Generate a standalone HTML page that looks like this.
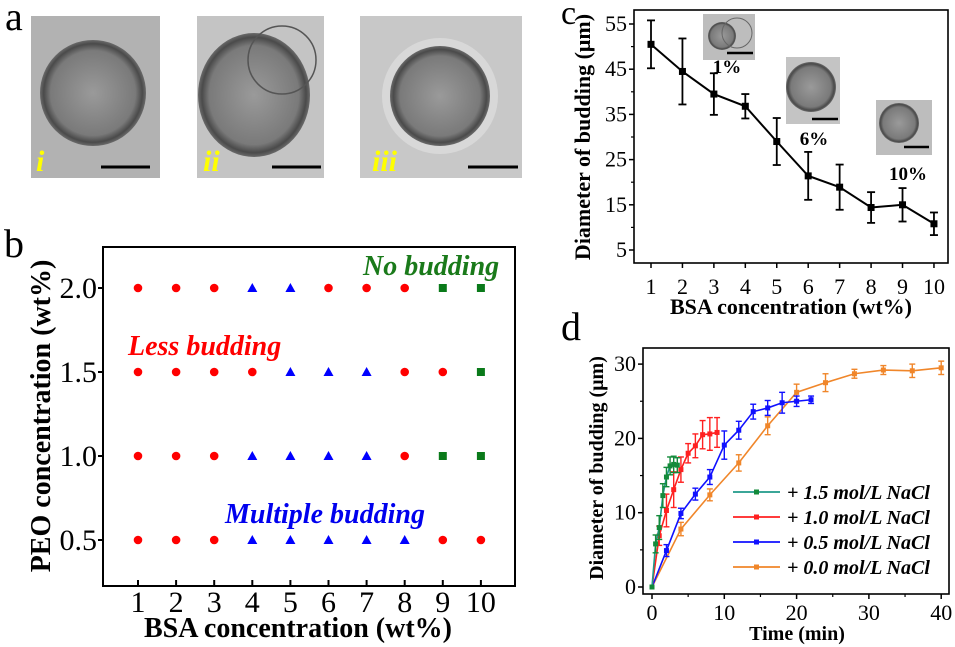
<!DOCTYPE html>
<html><head><meta charset="utf-8"><style>
html,body{margin:0;padding:0;background:#fff;}
svg{display:block;font-family:"Liberation Serif",serif;}
</style></head><body>
<svg id="s" width="955" height="647" viewBox="0 0 955 647" xmlns="http://www.w3.org/2000/svg">
<defs>
<radialGradient id="cell" cx="50%" cy="50%" r="50%">
<stop offset="0" stop-color="#9a9a9a"/><stop offset="0.8" stop-color="#7a7a7a"/><stop offset="0.93" stop-color="#4a4a4a"/><stop offset="1" stop-color="#6a6a6a"/>
</radialGradient>
</defs>
<!-- panel a -->
<text x="5" y="30" font-size="40">a</text>
<rect x="31" y="16" width="129" height="162" fill="#b2b2b2"/>
<circle cx="93" cy="93" r="53" fill="url(#cell)"/>
<line x1="101" y1="167" x2="150" y2="167" stroke="#000" stroke-width="3"/>
<text x="36" y="171" font-size="30" font-weight="bold" font-style="italic" fill="#ffff00">i</text>
<rect x="197" y="16" width="127" height="162" fill="#c4c4c4"/>
<ellipse cx="254" cy="95" rx="56" ry="62" fill="url(#cell)"/>
<circle cx="282" cy="60" r="34" fill="none" stroke="#555" stroke-width="1.5"/>
<line x1="272" y1="167" x2="321" y2="167" stroke="#000" stroke-width="3"/>
<text x="203" y="171" font-size="30" font-weight="bold" font-style="italic" fill="#ffff00">ii</text>
<rect x="360" y="16" width="162" height="162" fill="#c8c8c8"/>
<circle cx="440" cy="96" r="58" fill="#d8d8d8"/>
<circle cx="440" cy="96" r="50" fill="url(#cell)"/>
<line x1="468" y1="167" x2="518" y2="167" stroke="#000" stroke-width="3"/>
<text x="372" y="171" font-size="30" font-weight="bold" font-style="italic" fill="#ffff00">iii</text>

<!-- panel b -->
<text x="4" y="257" font-size="40">b</text>
<rect x="103" y="247" width="412" height="339" fill="none" stroke="#000" stroke-width="2"/>
<g id="bdata"></g>
<text x="363" y="275" font-size="28" font-weight="bold" font-style="italic" fill="#1a7a1a">No budding</text>
<text x="128" y="355" font-size="28" font-weight="bold" font-style="italic" fill="#ff0000">Less budding</text>
<text x="225" y="523" font-size="28" font-weight="bold" font-style="italic" fill="#0000ee">Multiple budding</text>
<text x="298" y="637" font-size="28" font-weight="bold" text-anchor="middle">BSA concentration (wt%)</text>
<text transform="translate(50,416) rotate(-90)" font-size="28" font-weight="bold" text-anchor="middle">PEO concentration (wt%)</text>

<!-- panel c -->
<text x="561" y="24" font-size="34">c</text>
<rect x="634" y="10" width="314" height="253" fill="none" stroke="#000" stroke-width="1.6"/>
<rect x="703" y="14" width="52" height="46" fill="#bdbdbd"/>
<circle cx="722" cy="36" r="14" fill="url(#cell)"/><circle cx="737" cy="33" r="15" fill="none" stroke="#666"/>
<line x1="727" y1="53" x2="753" y2="53" stroke="#000" stroke-width="2.5"/>
<text x="727" y="73" font-size="19" font-weight="bold" text-anchor="middle">1%</text>
<rect x="786" y="57" width="54" height="67" fill="#c4c4c4"/>
<circle cx="811" cy="87" r="25" fill="url(#cell)"/>
<line x1="812" y1="119" x2="838" y2="119" stroke="#000" stroke-width="2.5"/>
<text x="814" y="145" font-size="19" font-weight="bold" text-anchor="middle">6%</text>
<rect x="876" y="100" width="56" height="55" fill="#bdbdbd"/>
<circle cx="899" cy="123" r="20" fill="url(#cell)"/>
<line x1="904" y1="147" x2="929" y2="147" stroke="#000" stroke-width="2.5"/>
<text x="908" y="180" font-size="19" font-weight="bold" text-anchor="middle">10%</text>
<g id="cdata"></g>
<text x="791" y="314" font-size="22" font-weight="bold" text-anchor="middle">BSA concentration (wt%)</text>
<text transform="translate(590,137) rotate(-90)" font-size="22" font-weight="bold" text-anchor="middle">Diameter of budding (μm)</text>

<!-- panel d -->
<text x="561" y="340" font-size="40">d</text>
<rect x="643" y="348" width="306" height="246" fill="none" stroke="#000" stroke-width="1.6"/>
<g id="ddata"></g>
<text x="797" y="640" font-size="20" font-weight="bold" text-anchor="middle">Time (min)</text>
<text transform="translate(603,468) rotate(-90)" font-size="20" font-weight="bold" text-anchor="middle">Diameter of budding (μm)</text>
</svg>
<script>
var NS="http://www.w3.org/2000/svg";
function el(p,t,a,txt){var e=document.createElementNS(NS,t);for(var k in a)e.setAttribute(k,a[k]);if(txt!==undefined)e.textContent=txt;p.appendChild(e);return e;}
var b=document.getElementById("bdata");
var bx=function(i){return 138+(i-1)*38.1;};
var by={"2.0":288,"1.5":372,"1.0":456,"0.5":540};
var rows={"2.0":"rrrbbrrrgg","1.5":"rrrrbbbrrg","1.0":"rrrbbbbrgg","0.5":"rrrbbbbbrr"};
for(var k in rows){var y=by[k];
 el(b,"line",{x1:98,y1:y,x2:103,y2:y,stroke:"#000","stroke-width":2});
 el(b,"text",{x:97,y:y+10,"font-size":30,"text-anchor":"end"},k);
 for(var i=1;i<=10;i++){var c=rows[k][i-1],x=bx(i);
  if(c=="r")el(b,"circle",{cx:x,cy:y,r:4.3,fill:"#ff0000"});
  else if(c=="b")el(b,"polygon",{points:(x-5)+","+(y+4)+" "+(x+5)+","+(y+4)+" "+x+","+(y-5),fill:"#0000ff"});
  else el(b,"rect",{x:x-4,y:y-4,width:8,height:8,fill:"#0a7a1a"});}}
for(var i=1;i<=10;i++){var x=bx(i);el(b,"line",{x1:x,y1:586,x2:x,y2:580,stroke:"#000","stroke-width":2});
 el(b,"text",{x:x,y:612,"font-size":30,"text-anchor":"middle"},""+i);}
var c=document.getElementById("cdata");
var cx=function(i){return 651+(i-1)*31.44;},cy=function(v){return 24+(55-v)*4.52;};
[55,45,35,25,15,5].forEach(function(v){var y=cy(v);el(c,"line",{x1:629,y1:y,x2:634,y2:y,stroke:"#000","stroke-width":1.5});
 el(c,"text",{x:627,y:y+7,"font-size":22,"text-anchor":"end"},""+v);});
[50,40,30,20,10].forEach(function(v){var y=cy(v);el(c,"line",{x1:631,y1:y,x2:634,y2:y,stroke:"#000","stroke-width":1.2});});
var cd=[[50.5,5.3],[44.5,7.3],[39.5,4.6],[36.8,2.7],[29,5.2],[21.4,5.3],[18.9,5],[14.4,3.4],[15,3.7],[10.8,2.5]];
var pts=cd.map(function(d,i){return cx(i+1)+","+cy(d[0]);}).join(" ");
el(c,"polyline",{points:pts,fill:"none",stroke:"#000","stroke-width":2});
cd.forEach(function(d,i){var x=cx(i+1);
 el(c,"line",{x1:x,y1:cy(d[0]+d[1]),x2:x,y2:cy(d[0]-d[1]),stroke:"#000","stroke-width":1.8});
 el(c,"line",{x1:x-4,y1:cy(d[0]+d[1]),x2:x+4,y2:cy(d[0]+d[1]),stroke:"#000","stroke-width":1.8});
 el(c,"line",{x1:x-4,y1:cy(d[0]-d[1]),x2:x+4,y2:cy(d[0]-d[1]),stroke:"#000","stroke-width":1.8});
 el(c,"rect",{x:x-3.5,y:cy(d[0])-3.5,width:7,height:7,fill:"#000"});
 el(c,"line",{x1:x,y1:263,x2:x,y2:268,stroke:"#000","stroke-width":1.5});
 el(c,"text",{x:x,y:294,"font-size":22,"text-anchor":"middle"},""+(i+1));});
var d=document.getElementById("ddata");
var dx=function(t){return 652+t*7.23;},dy=function(v){return 587-v*7.43;};
[0,10,20,30].forEach(function(v){var y=dy(v);el(d,"line",{x1:638,y1:y,x2:643,y2:y,stroke:"#000","stroke-width":1.5});
 el(d,"text",{x:636,y:y+7,"font-size":22,"text-anchor":"end"},""+v);});
[5,15,25].forEach(function(v){var y=dy(v);el(d,"line",{x1:640,y1:y,x2:643,y2:y,stroke:"#000","stroke-width":1.2});});
[0,10,20,30,40].forEach(function(t){var x=dx(t);el(d,"line",{x1:x,y1:594,x2:x,y2:599,stroke:"#000","stroke-width":1.5});
 el(d,"text",{x:x,y:620,"font-size":22,"text-anchor":"middle"},""+t);});
[5,15,25,35].forEach(function(t){var x=dx(t);el(d,"line",{x1:x,y1:594,x2:x,y2:597,stroke:"#000","stroke-width":1.2});});
var series=[
 {c:"#f0862a",lc:"#f0862a",p:[[0,0,0],[4,7.8,0.9],[8,12.4,0.8],[12,16.7,1.1],[16,21.7,1.2],[20,26.2,1.1],[24,27.5,1.2],[28,28.7,0.6],[32,29.2,0.6],[36,29.1,0.9],[40,29.5,0.9]]},
 {c:"#1010ff",lc:"#1010ff",p:[[0,0,0],[2,4.9,0.8],[4,9.9,0.7],[6,12.5,0.8],[8,14.8,1],[10,19.1,1.9],[12,21.1,1.2],[14,23.6,1],[16,24.1,1],[18,24.8,1.4],[20,25,0.7],[22,25.2,0.5]]},
 {c:"#ff2020",lc:"#ff2020",p:[[0,0,0],[1,6.9,1.3],[2,10.3,2.2],[3,13.1,2.4],[4,15.8,1.7],[5,18,1.3],[6,19,1.6],[7,20.5,1.9],[8,20.6,2.2],[9,20.8,2]]},
 {c:"#138a3a",lc:"#1f9a8a",p:[[0,0,0],[0.5,5.8,1.2],[1,8,1.6],[1.5,12.3,1.6],[2,14.8,1.3],[2.5,16.3,1.2],[3,16.5,1.1],[3.5,16.4,1]]}];
series.forEach(function(s){
 el(d,"polyline",{points:s.p.map(function(q){return dx(q[0])+","+dy(q[1]);}).join(" "),fill:"none",stroke:s.lc,"stroke-width":1.6});
 s.p.forEach(function(q){var x=dx(q[0]);
  if(q[2]>0){el(d,"line",{x1:x,y1:dy(q[1]+q[2]),x2:x,y2:dy(q[1]-q[2]),stroke:s.c,"stroke-width":1.4});
   el(d,"line",{x1:x-3,y1:dy(q[1]+q[2]),x2:x+3,y2:dy(q[1]+q[2]),stroke:s.c,"stroke-width":1.4});
   el(d,"line",{x1:x-3,y1:dy(q[1]-q[2]),x2:x+3,y2:dy(q[1]-q[2]),stroke:s.c,"stroke-width":1.4});}
  el(d,"rect",{x:x-2.5,y:dy(q[1])-2.5,width:5,height:5,fill:s.c});});});
var leg=[["#1f9a8a","#138a3a","+ 1.5 mol/L NaCl"],["#ff2020","#ff2020","+ 1.0 mol/L NaCl"],["#1010ff","#1010ff","+ 0.5 mol/L NaCl"],["#f0862a","#f0862a","+ 0.0 mol/L NaCl"]];
leg.forEach(function(l,i){var y=492+i*25;
 el(d,"line",{x1:733,y1:y,x2:780,y2:y,stroke:l[0],"stroke-width":1.8});
 el(d,"rect",{x:754,y:y-2.5,width:5,height:5,fill:l[1]});
 el(d,"text",{x:787,y:y+7,"font-size":20,"font-weight":"bold","font-style":"italic"},l[2]);});
</script>
</body></html>
